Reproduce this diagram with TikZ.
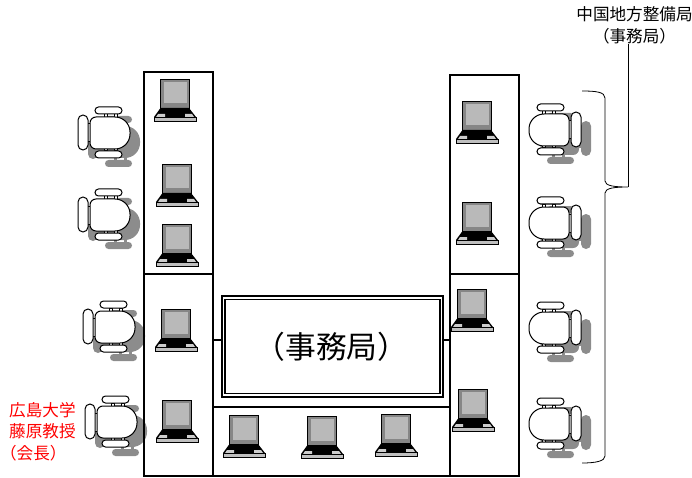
\documentclass[tikz,border=0pt]{standalone}
\usepackage{fontspec}
\usepackage{xcolor}
\usepackage{tikz}
\setmainfont{Noto Sans CJK JP}

\tikzset{
  pics/chair/.style={code={
    \foreach \dx/\dy/\sty in {10/9/chairshadow, 0/0/chairpart} {
      \begin{scope}[shift={(\dx, \dy)}, xscale=#1]
        \draw[\sty] (-6.0, -19.0) rectangle (-3.0, 18.0);
        \draw[\sty] (4.0, -19.0) rectangle (7.0, 18.0);
        \draw[\sty] (15.0, -9.0) rectangle (24.0, 9.0);
        \draw[\sty] (0.0, -16.0) [rounded corners=6pt] -- (21.0, -16.0) -- (21.0, 16.0)
          [rounded corners=15pt] -- (-19.0, 16.0) -- (-19.0, -16.0) [sharp corners] -- cycle;
        \draw[\sty, rounded corners=3.5pt] (-11.0, -26.0) rectangle (16.0, -19.0);
        \draw[\sty, rounded corners=3.5pt] (-11.0, 18.0) rectangle (16.0, 25.0);
        \draw[\sty, rounded corners=5pt] (23.0, -18.0) rectangle (33.0, 17.0);
      \end{scope}
    }
  }},
  pics/laptop/.style={code={
    \draw[black, fill=gray!95] (-14.5, -21.0) rectangle (14.0, 8.0);
    \fill[gray!55] (-11.5, -18.0) rectangle (11.5, 3.5);
    \fill[black] (-14.5, 8.0) -- (14.0, 8.0) -- (21.0, 17.0) -- (-21.0, 17.0) -- cycle;
    \fill[gray!40] (-17.0, 14.0) -- (-10.0, 14.0) -- (-10.0, 17.0) -- (-19.0, 17.0) -- cycle;
    \fill[gray!40] (17.0, 14.0) -- (10.0, 14.0) -- (10.0, 17.0) -- (19.0, 17.0) -- cycle;
    \draw[black, thin, fill=gray!50] (-21.0, 17.0) rectangle (21.0, 21.0);
  }}
}

\begin{document}
\begin{tikzpicture}[x=1pt, y=-1pt,
  deskbox/.style={rectangle, draw=black, line width=1.9pt, inner sep=0pt, outer sep=0pt},
  officebox/.style={rectangle, draw=black, fill=white, line width=1.1pt, inner sep=0pt, outer sep=0pt},
  chairpart/.style={draw=black, line width=1pt, fill=white},
  chairshadow/.style={draw=none, fill=gray!90},
  brace/.style={black, line width=0.8pt},
  smalltext/.style={align=center, font=\fontsize{16.6}{21.5}\selectfont, inner sep=0pt}]
\useasboundingbox (0, 0) rectangle (692, 478);

\pic at (111.0, 133.0) {chair={-1}};
\pic at (111.0, 215.0) {chair={-1}};
\pic at (116.0, 327.0) {chair={-1}};
\pic at (118.0, 422.0) {chair={-1}};
\pic at (548.0, 130.0) {chair={1}};
\pic at (548.0, 223.0) {chair={1}};
\pic at (548.0, 328.0) {chair={1}};
\pic at (548.0, 424.0) {chair={1}};

\node[deskbox, minimum width=69pt, minimum height=202pt] at (178.5, 173.0) (deskleftup) {};
\node[deskbox, minimum width=69pt, minimum height=202pt] at (178.5, 375.0) (deskleftlow) {};
\node[deskbox, minimum width=69pt, minimum height=199pt] at (484.5, 174.5) (deskrightup) {};
\node[deskbox, minimum width=69pt, minimum height=202pt] at (484.5, 375.0) (deskrightlow) {};
\node[deskbox, minimum width=237pt, minimum height=69pt] at (331.5, 441.5) (deskbottom) {};
\node[deskbox, line width=1.3pt, minimum width=237pt, minimum height=67pt] at (331.5, 373.5) (deskmiddle) {};

\pic at (175.0, 100.0) {laptop};
\pic at (177.0, 185.0) {laptop};
\pic at (177.0, 245.0) {laptop};
\pic at (176.0, 330.0) {laptop};
\pic at (177.0, 421.0) {laptop};
\pic at (244.0, 436.0) {laptop};
\pic at (322.0, 437.0) {laptop};
\pic at (396.0, 435.0) {laptop};
\pic at (477.0, 122.0) {laptop};
\pic at (477.0, 223.0) {laptop};
\pic at (472.0, 310.0) {laptop};
\pic at (473.0, 410.0) {laptop};

\node[officebox, minimum width=221pt, minimum height=101pt] at (332.5, 346.5) (officeouter) {};
\node[officebox, minimum width=215pt, minimum height=94pt, font=\fontsize{30.8}{36}\selectfont] at (332.5, 346.5) (office) {\hspace*{-2pt}（事務局）};

\node[smalltext] at (634.5, 25.5) (bureau) {中国地方整備局\\（事務局）};
\node[smalltext, align=left, text=red, anchor=west] at (9.0, 431.5) (chairman) {広島大学\\藤原教授\\\hspace*{-0.55em}（会長）};

\coordinate (bracetop) at (582.0, 91.0);
\coordinate (bracebottom) at (582.0, 463.0);
\coordinate (bracetip) at (628.0, 187.0);
\draw[brace] (bracetip |- bureau.south) -- (bracetip);
\draw[brace] (bracetop) .. controls (596.0, 91.0) and (605.0, 92.0) .. (605.0, 98.0) -- (605.0, 181.0)
  .. controls (605.0, 186.0) and (615.0, 187.0) .. (bracetip)
  .. controls (615.0, 187.0) and (605.0, 188.0) .. (605.0, 193.0) -- (605.0, 456.0)
  .. controls (605.0, 461.0) and (596.0, 463.0) .. (bracebottom);

\end{tikzpicture}
\end{document}
